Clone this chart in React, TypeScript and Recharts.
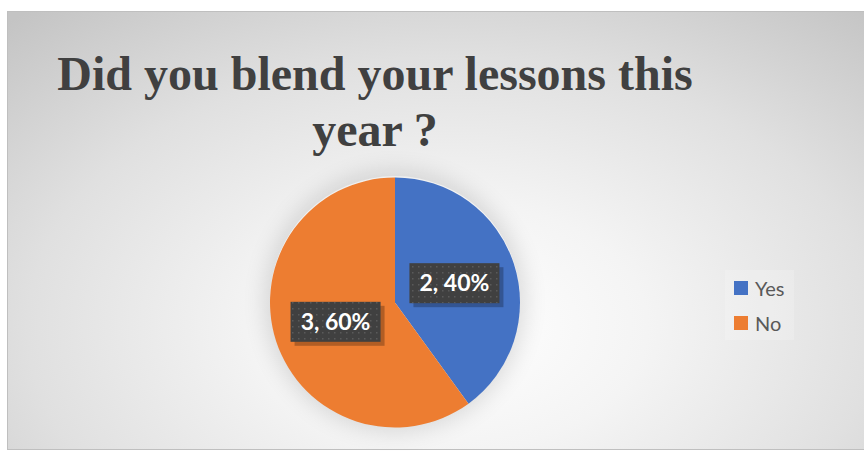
import React from 'react'
import { PieChart, Pie, Cell, Legend } from 'recharts'

const categories = ['Yes', 'No']
const counts = [2, 3]
const percents = ['40%', '60%']
const colors = ['#4472c4', '#ed7d31']

const data = categories.map((name, i) => ({ name, value: counts[i], pct: percents[i] }))

const renderLabel = (props: any) => {
  const { cx, cy, midAngle, outerRadius, index } = props
  const RAD = Math.PI / 180
  const r = outerRadius * 0.5
  const x = cx + r * Math.cos(-midAngle * RAD)
  const y = cy + r * Math.sin(-midAngle * RAD)
  const w = 90
  const h = 40
  return (
    <g key={`lbl-${index}`}>
      <rect x={x - w / 2 + 4} y={y - h / 2 + 4} width={w} height={h} fill="rgba(0,0,0,0.25)" />
      <rect x={x - w / 2} y={y - h / 2} width={w} height={h} fill="#404040" />
      <rect x={x - w / 2} y={y - h / 2} width={w} height={h} fill="url(#dots)" />
      <text
        x={x}
        y={y + 8}
        textAnchor="middle"
        fill="#ffffff"
        fontFamily="Lato, sans-serif"
        fontWeight={700}
        fontSize={23}
      >
        {`${counts[index]}, ${percents[index]}`}
      </text>
    </g>
  )
}

const LegendContent = () => (
  <div
    style={{
      background: 'rgba(255,255,255,0.18)',
      padding: '0.5px 0 0 9px',
      height: 70,
      boxSizing: 'border-box',
      fontFamily: 'Lato, sans-serif',
      fontSize: 20,
      color: '#595959',
    }}
  >
    {categories.map((c, i) => (
      <div key={c} style={{ display: 'flex', alignItems: 'center', height: 35 }}>
        <span style={{ width: 14, height: 14, background: colors[i], marginRight: 7, display: 'inline-block' }} />
        <span>{c}</span>
      </div>
    ))}
  </div>
)

export default function App() {
  return (
    <div style={{ position: 'absolute', left: 0, top: 0, width: 864, height: 451, background: '#fff', overflow: 'hidden' }}>
      <div
        style={{
          position: 'absolute',
          left: 7,
          top: 11,
          width: 870,
          height: 437,
          border: '1px solid #bfbfbf',
          background: 'radial-gradient(ellipse 75% 95% at 51% 72%, #ffffff 0%, #f4f4f4 30%, #e0e0e0 65%, #c4c4c4 100%)',
        }}
      >
        <div
          style={{
            position: 'absolute',
            left: 262,
            top: 164,
            width: 250,
            height: 250,
            borderRadius: '50%',
            boxShadow: '0 0 22px 6px rgba(0,0,0,0.12)',
          }}
        />
        <div
          style={{
            position: 'absolute',
            left: 0,
            width: 734,
            top: 34,
            textAlign: 'center',
            fontFamily: "'Liberation Serif', 'Times New Roman', serif",
            fontWeight: 700,
            fontSize: 48,
            lineHeight: '56px',
            color: '#404040',
          }}
        >
          Did you blend your lessons this
          <br />
          year ?
        </div>
        <PieChart width={860} height={437} style={{ position: 'absolute', left: 0, top: 0 }}>
          <defs>
            <pattern id="dots" width="6" height="6" patternUnits="userSpaceOnUse">
              <rect x="2" y="2" width="1.5" height="1.5" fill="#5a5a5a" />
            </pattern>
          </defs>
          <Pie
            data={data}
            dataKey="value"
            nameKey="name"
            cx={382}
            cy={285.5}
            outerRadius={125}
            startAngle={90}
            endAngle={-270}
            stroke="none"
            label={renderLabel}
            labelLine={false}
            isAnimationActive={false}
          >
            {data.map((d, i) => (
              <Cell key={d.name} fill={colors[i]} />
            ))}
          </Pie>
          <Legend
            layout="vertical"
            content={<LegendContent />}
            wrapperStyle={{ left: 717, top: 258, width: 69 }}
          />
        </PieChart>
      </div>
    </div>
  )
}
